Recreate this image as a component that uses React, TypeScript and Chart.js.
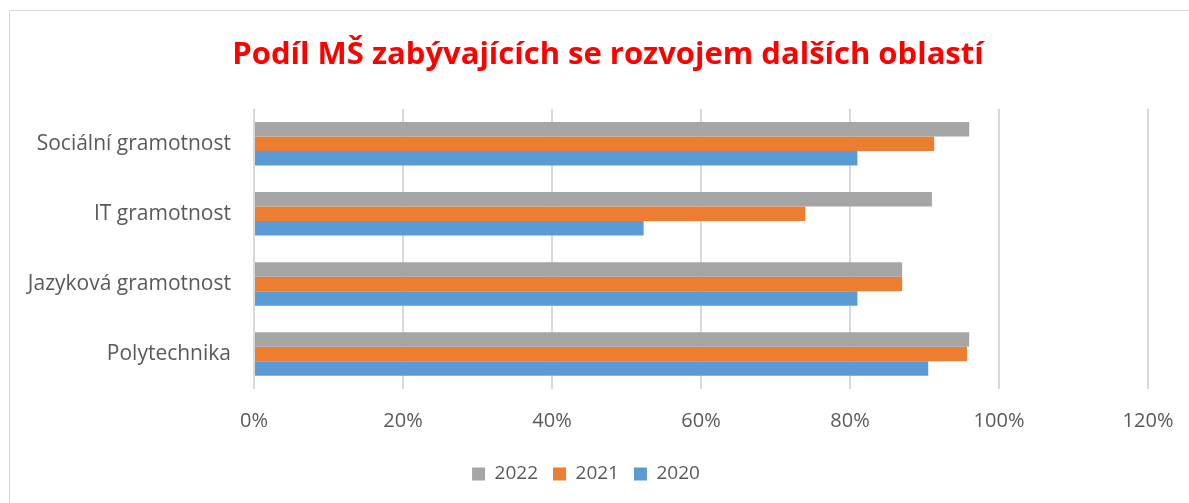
import React, { useEffect, useRef } from "react";
import { Chart, registerables } from "chart.js";

Chart.register(...registerables);

const categories = ["Sociální gramotnost", "IT gramotnost", "Jazyková gramotnost", "Polytechnika"];
const values2022 = [0.96, 0.91, 0.87, 0.96];
const values2021 = [0.913, 0.74, 0.87, 0.957];
const values2020 = [0.81, 0.523, 0.81, 0.905];
const titleText = "Podíl MŠ zabývajících se rozvojem dalších oblastí";

const FONT = "'Open Sans', 'Liberation Sans', sans-serif";

const shiftPlugin = {
  id: "shiftBlocks",
  afterLayout(chart: any) {
    const t = chart.titleBlock;
    if (t) { t.left += 29; t.right += 29; }
    const l = chart.legend;
    if (l) { l.left += 7; l.right += 7; }
  },
};

export default function App() {
  const ref = useRef<HTMLCanvasElement | null>(null);

  useEffect(() => {
    if (!ref.current) return;
    const chart = new Chart(ref.current, {
      type: "bar",
      data: {
        labels: categories,
        datasets: [
          { label: "2022", data: values2022, backgroundColor: "#A5A5A5" },
          { label: "2021", data: values2021, backgroundColor: "#ED7D31" },
          { label: "2020", data: values2020, backgroundColor: "#5B9BD5" },
        ],
      },
      plugins: [shiftPlugin],
      options: {
        indexAxis: "y",
        animation: false,
        responsive: false,
        maintainAspectRatio: false,
        datasets: {
          bar: { categoryPercentage: 0.62, barPercentage: 1.0 },
        },
        layout: { padding: { left: 0, right: 41, top: 0, bottom: 9.5 } },
        scales: {
          x: {
            min: 0,
            max: 1.2,
            ticks: {
              stepSize: 0.2,
              padding: 20,
              color: "#595959",
              font: { family: FONT, size: 20 },
              callback: (v: any) => Math.round(Number(v) * 100) + "%",
            },
            grid: { color: "#d9d9d9", lineWidth: 2, drawTicks: false },
            border: { display: false },
            afterFit: (s: any) => {
              s.height = 60.4;
              s.paddingRight = 20;
              s.paddingLeft = 10;
            },
          },
          y: {
            ticks: {
              padding: 23,
              color: "#595959",
              font: { family: FONT, size: 21 },
            },
            grid: { display: false, drawTicks: false },
            border: { display: false },
            afterFit: (s: any) => { s.width = 244; },
          },
        },
        plugins: {
          tooltip: { enabled: false },
          title: {
            display: true,
            text: titleText,
            color: "#FF0000",
            font: { family: FONT, size: 31, weight: "bold", lineHeight: 1.2 },
            padding: { top: 26, bottom: 34.5 },
          },
          legend: {
            position: "bottom",
            labels: {
              color: "#595959",
              font: { family: FONT, size: 19 },
              boxWidth: 13,
              boxHeight: 13,
              padding: 15,
            },
          },
        },
      },
    });
    return () => chart.destroy();
  }, []);

  return (
    <div
      style={{
        position: "fixed",
        left: 9,
        top: 10,
        width: 1179,
        height: 492,
        borderLeft: "1px solid #d9d9d9",
        borderTop: "1px solid #d9d9d9",
      }}
    >
      <canvas ref={ref} width={1179} height={492} style={{ display: "block" }} />
    </div>
  );
}
